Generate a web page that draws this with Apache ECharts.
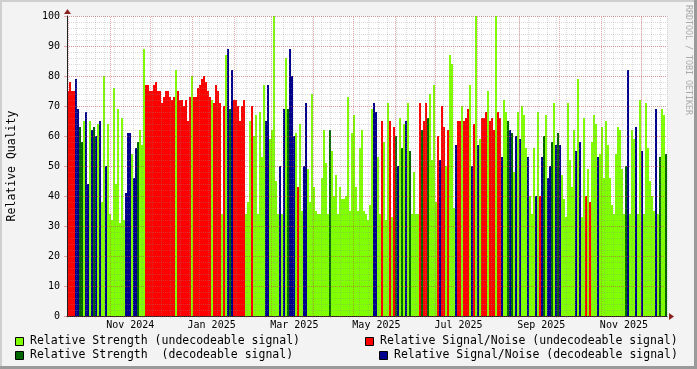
<!DOCTYPE html>
<html><head><meta charset="utf-8">
<script src="https://cdn.jsdelivr.net/npm/echarts@6/dist/echarts.min.js"></script>
<style>html,body{margin:0;padding:0;background:#f3f3f3}#c{width:697px;height:369px}</style>
</head><body><div id="c"></div>
<script>
// One entry per 2-px time slot (Sep 30 2024 .. Dec 20 2025).
// L = strength undecodeable, G = strength decodeable, R = S/N undecodeable, B = S/N decodeable
const slotKind = (
  'RRRRBBGGLB' + 'BLBGBLBLLB' + 'LLLLLLLLLB' + 'BBLBBGLLLR' + 'RRRRRRRRRR' +
  'RRRRLRRRRR' + 'RRLRRRRRRR' + 'RRLRRRRLRL' + 'BGBRRRRRRL' + 'LLRLLLLLLB' +
  'BLLLLLBLBL' + 'GBBBLRLLBB' + 'LLLLLLLLLL' + 'LGLLLLLLLL' + 'LLLLLLLLLL' +
  'LLLBBLLRLL' + 'LRLRGBLGLB' + 'LGLLLLRGRR' + 'GLLLLRBRRL' + 'RLLLBRRLRR' +
  'RLBRLBLRRR' + 'LRRRLRRBLL' + 'GBGLBLBLLL' + 'BLLLBLRBGL' + 'BBGLBGBLLL' +
  'LLLLBLBLLR' + 'LRLLLBLLLL' + 'LLLLLLLLLG' + 'BLLLBLLBLL' + 'LLLLBLGLLG'
).split('');
const slotValue = [
  75,78,75,75,79,69,63,58,65,68,
  44,65,62,63,60,64,65,38,80,50,
  64,34,32,76,44,69,31,66,32,41,
  61,61,54,46,56,58,62,57,89,77,
  77,75,75,77,78,75,75,71,73,75,
  75,73,72,73,82,75,72,72,70,72,
  65,73,80,73,73,76,77,79,80,78,
  75,73,72,71,77,75,71,34,70,87,
  89,69,82,72,72,70,65,70,72,34,
  38,65,70,60,67,34,68,53,77,65,
  77,59,62,100,45,34,50,34,69,86,
  69,89,80,60,61,43,64,35,50,71,
  49,38,74,43,35,34,34,46,62,51,
  34,62,55,40,47,34,43,39,39,40,
  73,35,61,67,43,35,56,62,35,34,
  32,37,69,71,68,53,34,65,58,32,
  71,65,33,63,60,50,66,56,64,65,
  71,55,34,48,34,34,71,62,65,71,
  66,74,52,77,38,60,52,70,63,50,
  62,87,84,36,57,65,65,70,65,66,
  69,77,50,64,100,57,59,66,66,68,
  75,65,66,62,100,68,66,53,72,68,
  65,62,61,48,60,68,59,70,67,56,
  53,40,34,56,40,68,40,53,60,67,
  46,50,58,71,57,61,57,47,39,33,
  71,52,43,62,55,79,58,33,66,40,
  49,38,58,67,64,53,54,63,46,65,
  57,46,37,34,54,63,62,49,34,50,
  82,34,62,59,63,34,72,55,34,71,
  56,45,40,35,69,34,53,69,67,54
];
const seriesKinds = ['L', 'R', 'G', 'B'];
const seriesNames = [
  'Relative Strength (undecodeable signal)',
  'Relative Signal/Noise (undecodeable signal)',
  'Relative Strength  (decodeable signal)',
  'Relative Signal/Noise (decodeable signal)'
];
const seriesColors = ['#80FF00', '#FF0000', '#006600', '#00008C'];

const spanDays = 446;                       // days from Sep 30 2024
const monthStartDays = [1, 32, 62, 93, 124, 152, 183, 213, 244, 274, 305, 336, 366, 397, 427];
const monthLabels = ['Nov 2024', 'Jan 2025', 'Mar 2025', 'May 2025', 'Jul 2025', 'Sep 2025', 'Nov 2025'];
const monthLabelDays = [47, 107.5, 169, 230, 291, 352.5, 414];
const yMin = 0, yMax = 100, yMajor = 10, yMinor = 2, weekDays = 7;

const MONO = '"DejaVu Sans Mono", "Liberation Mono", monospace';
const minorGrid = 'rgba(140,140,140,0.32)';
const majorGrid = 'rgba(200,50,50,0.4)';

const slots = slotKind.map((_, i) => i);
const barSeries = seriesKinds.map((k, si) => ({
  name: seriesNames[si],
  type: 'bar',
  xAxisIndex: 0, yAxisIndex: 0,
  barGap: '-100%', barCategoryGap: '0%',
  itemStyle: { color: seriesColors[si] },
  data: slotValue.map((v, i) => slotKind[i] === k ? v : '-'),
  z: 2
}));

const chart = echarts.init(document.getElementById('c'), null, { renderer: 'canvas' });
chart.setOption({
  animation: false,
  backgroundColor: '#f3f3f3',
  grid: {
    left: 67, top: 16, width: 600, height: 300, show: true, backgroundColor: '#ffffff', borderWidth: 0,
    containLabel: false, outerBoundsMode: 'none'
  },
  xAxis: [
    { type: 'category', data: slots, show: false, boundaryGap: true, position: 'bottom' },
    {
      type: 'value', min: 0, max: spanDays, interval: weekDays, z: 5, position: 'bottom',
      axisLine: { show: true, onZero: false, lineStyle: { color: '#202020', width: 1 } },
      axisTick: { show: true, length: 2, lineStyle: { color: minorGrid } },
      splitLine: { show: true, lineStyle: { color: minorGrid, type: [1, 1], width: 1 } },
      axisLabel: {
        customValues: monthLabelDays,
        formatter: v => { const i = monthLabelDays.indexOf(v); return i >= 0 ? monthLabels[i] : ''; },
        fontFamily: MONO, fontSize: 10, color: '#000', margin: 4
      }
    }
  ],
  yAxis: [
    {
      type: 'value', min: yMin, max: yMax, interval: yMajor, z: 6, position: 'left',
      name: 'Relative Quality', nameLocation: 'middle', nameGap: 49, nameRotate: 90,
      nameTextStyle: { fontFamily: MONO, fontSize: 11.5, color: '#000' },
      axisLine: { show: true, lineStyle: { color: '#202020', width: 1 } },
      axisTick: { show: true, length: 3, lineStyle: { color: majorGrid } },
      axisLabel: { fontFamily: MONO, fontSize: 10, color: '#000', margin: 7 },
      splitLine: { show: true, lineStyle: { color: majorGrid, type: [1, 1], width: 1 } }
    },
    {
      type: 'value', min: yMin, max: yMax, interval: yMinor, z: 5, position: 'left',
      axisLine: { show: false }, axisTick: { show: false }, axisLabel: { show: false },
      splitLine: { show: true, lineStyle: { color: minorGrid, type: [1, 1], width: 1 } }
    }
  ],
  series: barSeries.concat([{
    type: 'line', xAxisIndex: 1, yAxisIndex: 0, data: [], silent: true,
    markLine: {
      silent: true, symbol: ['none', 'none'], label: { show: false }, z: 5,
      lineStyle: { color: majorGrid, type: [1, 1], width: 1 },
      data: monthStartDays.map(d => ({ xAxis: d }))
    }
  }]),
  graphic: [
    { type: 'rect', shape: { x: 0, y: 0, width: 697, height: 2 }, style: { fill: '#cfcfcf' }, silent: true },
    { type: 'rect', shape: { x: 0, y: 0, width: 2, height: 369 }, style: { fill: '#cfcfcf' }, silent: true },
    { type: 'rect', shape: { x: 694, y: 0, width: 3, height: 369 }, style: { fill: '#9a9a9a' }, silent: true },
    { type: 'rect', shape: { x: 0, y: 366, width: 697, height: 3 }, style: { fill: '#9a9a9a' }, silent: true },
    { type: 'polygon', z: 20, shape: { points: [[669, 313], [674, 316.5], [669, 320]] }, style: { fill: '#8b2323' }, silent: true },
    { type: 'polygon', z: 20, shape: { points: [[64, 14], [67.5, 9], [71, 14]] }, style: { fill: '#8b2323' }, silent: true },
    { type: 'text', x: 688, y: 5, rotation: -Math.PI / 2, silent: true,
      style: { text: 'RRDTOOL / TOBI OETIKER', font: '8.3px ' + MONO, fill: '#aaaaaa', align: 'left', verticalAlign: 'middle' } },
    // legend
    { type: 'rect', shape: { x: 15.5, y: 337.5, width: 8, height: 8 }, style: { fill: seriesColors[0], stroke: '#000', lineWidth: 1 }, silent: true },
    { type: 'text', x: 30, y: 341.5, silent: true, style: { text: seriesNames[0], font: '11.5px ' + MONO, fill: '#000', verticalAlign: 'middle' } },
    { type: 'rect', shape: { x: 15.5, y: 351.5, width: 8, height: 8 }, style: { fill: seriesColors[2], stroke: '#000', lineWidth: 1 }, silent: true },
    { type: 'text', x: 30, y: 355.5, silent: true, style: { text: seriesNames[2], font: '11.5px ' + MONO, fill: '#000', verticalAlign: 'middle' } },
    { type: 'rect', shape: { x: 365.5, y: 337.5, width: 8, height: 8 }, style: { fill: seriesColors[1], stroke: '#000', lineWidth: 1 }, silent: true },
    { type: 'text', x: 380, y: 341.5, silent: true, style: { text: seriesNames[1], font: '11.5px ' + MONO, fill: '#000', verticalAlign: 'middle' } },
    { type: 'rect', shape: { x: 379.5, y: 351.5, width: 8, height: 8 }, style: { fill: seriesColors[3], stroke: '#000', lineWidth: 1 }, silent: true },
    { type: 'text', x: 394, y: 355.5, silent: true, style: { text: seriesNames[3], font: '11.5px ' + MONO, fill: '#000', verticalAlign: 'middle' } }
  ]
});
</script>
</body></html>
